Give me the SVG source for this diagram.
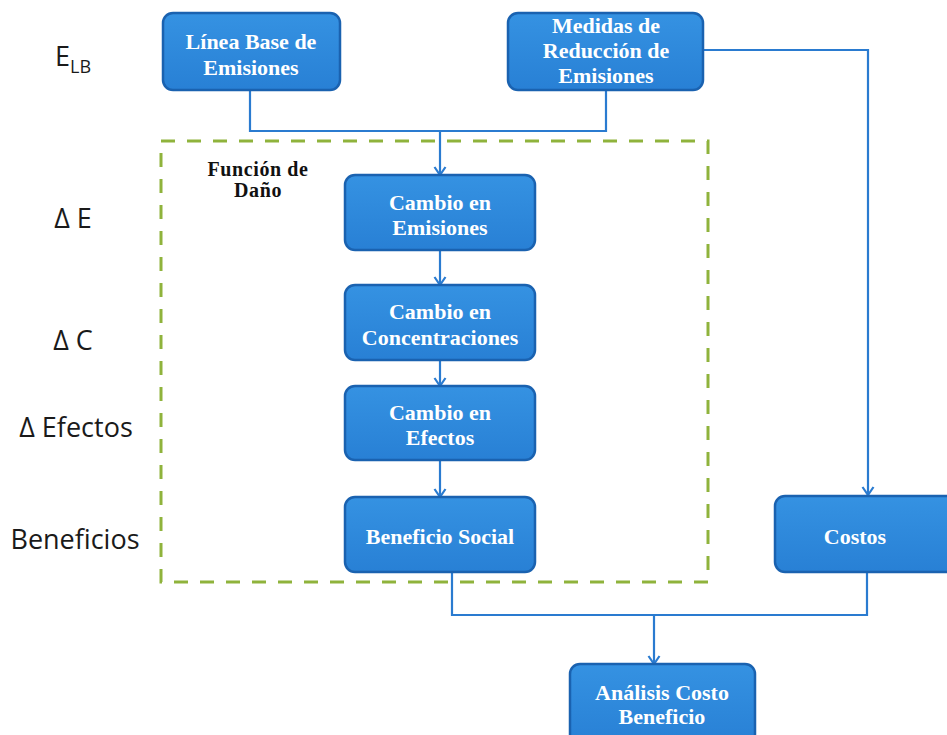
<svg xmlns="http://www.w3.org/2000/svg" width="947" height="735" viewBox="0 0 947 735">
<defs>
<linearGradient id="bg" x1="0" y1="0" x2="0" y2="1">
<stop offset="0" stop-color="#3592e2"/>
<stop offset="1" stop-color="#2880d5"/>
</linearGradient>
<marker id="ah" viewBox="0 0 14 14" refX="13" refY="7" markerWidth="14" markerHeight="14" markerUnits="userSpaceOnUse" orient="auto">
<path d="M5,1.5 L13,7 L5,12.5" fill="none" stroke="#2a7bd0" stroke-width="2.2"/>
</marker>
<style>
.box{fill:url(#bg);stroke:#1a62b0;stroke-width:2.5}
.bt{font-family:"Liberation Serif",serif;font-weight:bold;font-size:22px;fill:#ffffff;text-anchor:middle}
.lbl{font-family:"Open Sans","Liberation Sans",sans-serif;font-size:27px;fill:#1a1a1a;text-anchor:middle}
.con{fill:none;stroke:#2a7bd0;stroke-width:2.2}
.arr{marker-end:url(#ah)}
.dash{fill:none;stroke:#8fb33c;stroke-width:3;stroke-dasharray:14 12}
.fd{font-family:"Liberation Serif",serif;font-weight:bold;font-size:20px;letter-spacing:0.6px;fill:#111;text-anchor:middle}
</style>
</defs>
<rect width="947" height="735" fill="#ffffff"/>

<g id="labels">
<text class="lbl" x="73" y="66" font-size="26">E<tspan font-size="18" dy="7">LB</tspan></text>
<text class="lbl" x="73" y="228">Δ E</text>
<text class="lbl" x="73" y="350">Δ C</text>
<text class="lbl" x="76" y="437">Δ Efectos</text>
<text class="lbl" x="75" y="549">Beneficios</text>
</g>

<g id="damage-function">
<rect class="dash" x="161" y="141" width="547" height="441"/>
<text class="fd" x="258" y="176">Función de</text>
<text class="fd" x="258" y="197">Daño</text>
</g>

<g id="connectors">
<path class="con" d="M250,90 V131 H606 V90"/>
<path class="con arr" d="M440,131 V175"/>
<path class="con arr" d="M703,50 H868 V495"/>
<path class="con arr" d="M440,250 V285"/>
<path class="con arr" d="M440,360 V386"/>
<path class="con arr" d="M440,460 V497"/>
<path class="con" d="M452,572 V615 H867 V572"/>
<path class="con arr" d="M654,615 V664"/>
</g>

<g id="linea-base">
<rect class="box" x="163" y="13" width="177" height="77" rx="10"/>
<text class="bt" x="251" y="49">Línea Base de</text>
<text class="bt" x="251" y="75">Emisiones</text>
</g>

<g id="medidas">
<rect class="box" x="508" y="13" width="195" height="77" rx="10"/>
<text class="bt" x="606" y="33">Medidas de</text>
<text class="bt" x="606" y="58">Reducción de</text>
<text class="bt" x="606" y="83">Emisiones</text>
</g>

<g id="cambio-emisiones">
<rect class="box" x="345" y="175" width="190" height="75" rx="10"/>
<text class="bt" x="440" y="210">Cambio en</text>
<text class="bt" x="440" y="235">Emisiones</text>
</g>

<g id="cambio-concentraciones">
<rect class="box" x="345" y="285" width="190" height="75" rx="10"/>
<text class="bt" x="440" y="319">Cambio en</text>
<text class="bt" x="440" y="345">Concentraciones</text>
</g>

<g id="cambio-efectos">
<rect class="box" x="345" y="386" width="190" height="74" rx="10"/>
<text class="bt" x="440" y="420">Cambio en</text>
<text class="bt" x="440" y="445">Efectos</text>
</g>

<g id="beneficio-social">
<rect class="box" x="345" y="497" width="190" height="75" rx="10"/>
<text class="bt" x="440" y="544">Beneficio Social</text>
</g>

<g id="costos">
<rect class="box" x="775" y="496" width="185" height="76" rx="10"/>
<text class="bt" x="855" y="544">Costos</text>
</g>

<g id="analisis">
<rect class="box" x="570" y="664" width="185" height="80" rx="10"/>
<text class="bt" x="662" y="700">Análisis Costo</text>
<text class="bt" x="662" y="724">Beneficio</text>
</g>
</svg>
